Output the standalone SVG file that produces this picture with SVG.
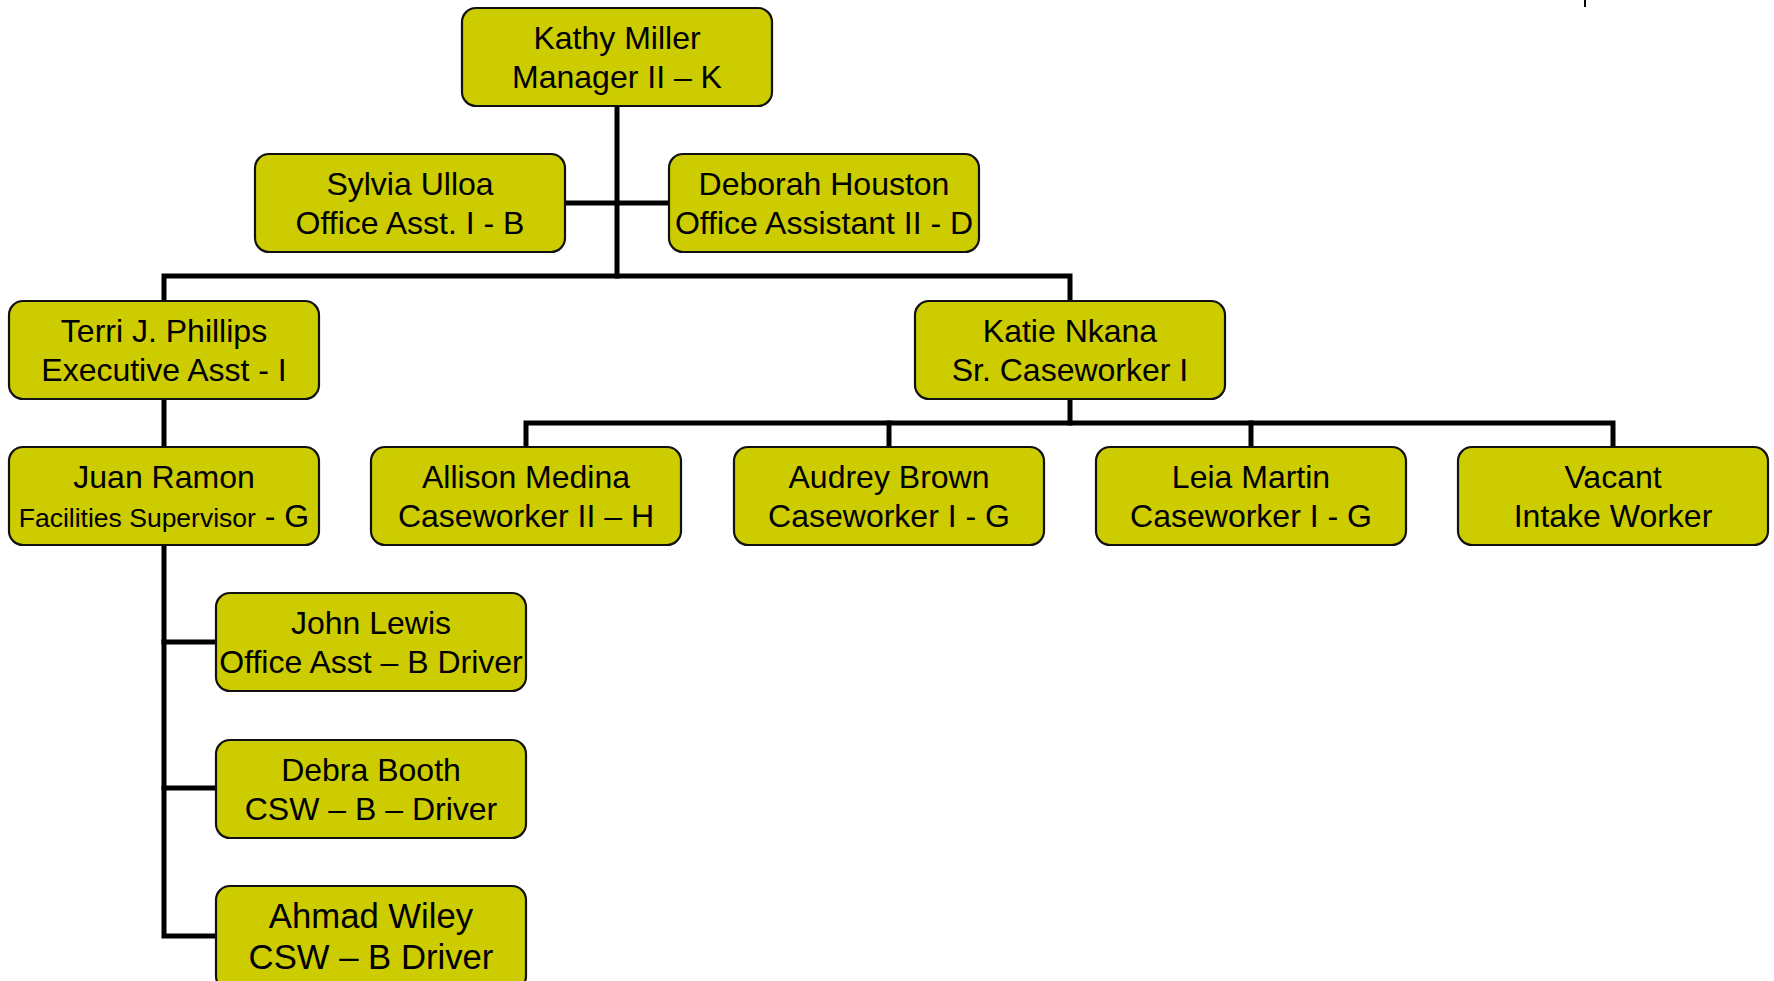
<svg xmlns="http://www.w3.org/2000/svg" width="1774" height="981" viewBox="0 0 1774 981">
<style>
.box{fill:#CCCC00;stroke:#111;stroke-width:2.2}
.t{font-family:"Liberation Sans",Arial,sans-serif;font-size:32px;fill:#000;text-anchor:middle}
.s{font-size:26.5px}
.b{font-size:34.7px}
.c{fill:none;stroke:#000;stroke-width:5;stroke-linecap:square}
</style>
<rect width="1774" height="981" fill="#fff"/>
<g id="connectors">
<path class="c" d="M617 106V276"/>
<path class="c" d="M566 203H668"/>
<path class="c" d="M164 301V276H1070V301"/>
<path class="c" d="M164 399V447"/>
<path class="c" d="M1070 399V423"/>
<path class="c" d="M526 447V423H1613V447"/>
<path class="c" d="M889 423V447"/>
<path class="c" d="M1251 423V447"/>
<path class="c" d="M164 545V936H216"/>
<path class="c" d="M164 642H216"/>
<path class="c" d="M164 788H216"/>
<line x1="1585" y1="0" x2="1585" y2="7" stroke="#000" stroke-width="2"/>
</g>
<g id="kathy"><rect class="box" x="462" y="8" width="310" height="98" rx="14"/><text class="t" x="617" y="49">Kathy Miller</text><text class="t" x="617" y="88">Manager II – K</text></g>
<g id="sylvia"><rect class="box" x="255" y="154" width="310" height="98" rx="14"/><text class="t" x="410" y="195">Sylvia Ulloa</text><text class="t" x="410" y="234">Office Asst. I - B</text></g>
<g id="deborah"><rect class="box" x="669" y="154" width="310" height="98" rx="14"/><text class="t" x="824" y="195">Deborah Houston</text><text class="t" x="824" y="234">Office Assistant II - D</text></g>
<g id="terri"><rect class="box" x="9" y="301" width="310" height="98" rx="14"/><text class="t" x="164" y="342">Terri J. Phillips</text><text class="t" x="164" y="381">Executive Asst - I</text></g>
<g id="katie"><rect class="box" x="915" y="301" width="310" height="98" rx="14"/><text class="t" x="1070" y="342">Katie Nkana</text><text class="t" x="1070" y="381">Sr. Caseworker I</text></g>
<g id="juan"><rect class="box" x="9" y="447" width="310" height="98" rx="14"/><text class="t" x="164" y="488">Juan Ramon</text><text class="t" x="164" y="527"><tspan class="s">Facilities Supervisor</tspan> - G</text></g>
<g id="allison"><rect class="box" x="371" y="447" width="310" height="98" rx="14"/><text class="t" x="526" y="488">Allison Medina</text><text class="t" x="526" y="527">Caseworker II – H</text></g>
<g id="audrey"><rect class="box" x="734" y="447" width="310" height="98" rx="14"/><text class="t" x="889" y="488">Audrey Brown</text><text class="t" x="889" y="527">Caseworker I - G</text></g>
<g id="leia"><rect class="box" x="1096" y="447" width="310" height="98" rx="14"/><text class="t" x="1251" y="488">Leia Martin</text><text class="t" x="1251" y="527">Caseworker I - G</text></g>
<g id="vacant"><rect class="box" x="1458" y="447" width="310" height="98" rx="14"/><text class="t" x="1613" y="488">Vacant</text><text class="t" x="1613" y="527">Intake Worker</text></g>
<g id="john"><rect class="box" x="216" y="593" width="310" height="98" rx="14"/><text class="t" x="371" y="634">John Lewis</text><text class="t" x="371" y="673">Office Asst – B Driver</text></g>
<g id="debra"><rect class="box" x="216" y="740" width="310" height="98" rx="14"/><text class="t" x="371" y="781">Debra Booth</text><text class="t" x="371" y="820">CSW – B – Driver</text></g>
<g id="ahmad"><rect class="box" x="216" y="886" width="310" height="104" rx="14"/><text class="t b" x="371" y="928">Ahmad Wiley</text><text class="t b" x="371" y="969">CSW – B Driver</text></g>
</svg>
